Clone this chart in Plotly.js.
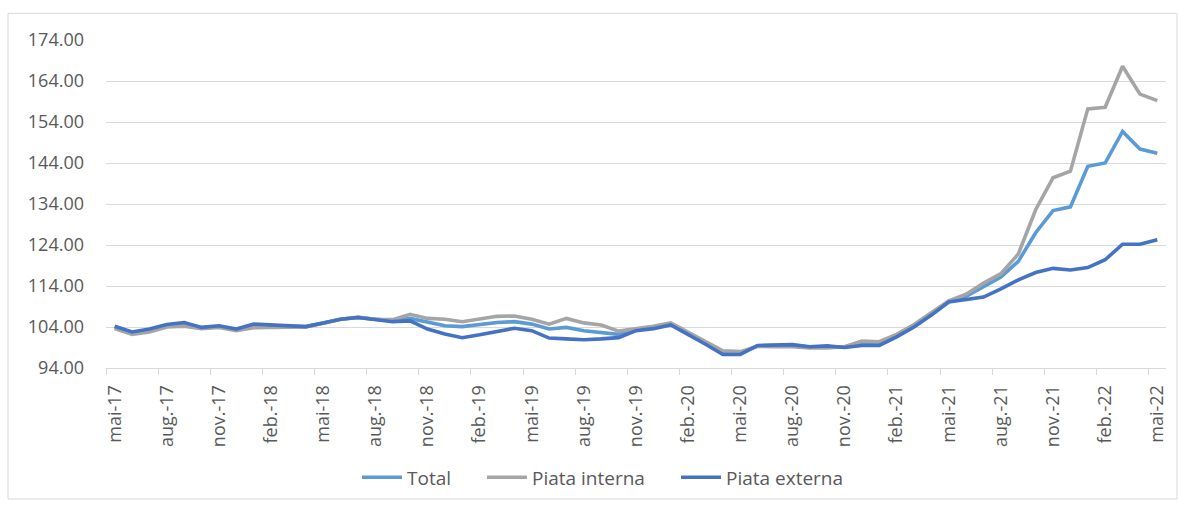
<!DOCTYPE html>
<html>
<head>
<meta charset="utf-8">
<script src="https://cdn.plot.ly/plotly-3.0.1.min.js"></script>
<style>html,body{margin:0;padding:0;background:#fff;}#chart{width:1178px;height:508px;}</style>
</head>
<body>
<div id="chart"></div>
<script>
// Category labels (monthly, mai-17 .. mai-22)
const monthNames = ["ian.", "feb.", "mar.", "apr.", "mai", "iun.", "iul.", "aug.", "sept.", "oct.", "nov.", "dec."];
const startMonth = 4, startYear = 17, nMonths = 61;
const months = [];
for (let k = 0; k < nMonths; k++) {
  const m = (startMonth + k) % 12;
  const y = startYear + Math.floor((startMonth + k) / 12);
  months.push(monthNames[m] + "-" + y);
}

const total = [
  103.9, 102.5, 103.2, 104.3, 104.7, 103.8, 104.1, 103.3, 104.3, 104.2,
  104.1, 104.1, 105.0, 105.9, 106.3, 105.8, 105.5, 106.1, 105.1, 104.3,
  104.1, 104.7, 105.1, 105.3, 104.7, 103.5, 103.9, 103.1, 102.7, 102.2,
  103.2, 103.9, 104.8, 102.5, 100.1, 97.7, 97.6, 99.4, 99.5, 99.5,
  99.1, 99.2, 99.1, 100.0, 99.9, 101.9, 104.3, 107.1, 110.3, 111.5,
  113.8, 116.2, 120.0, 127.0, 132.4, 133.3, 143.2, 144.0, 151.7, 147.4,
  146.4
];
const piataInterna = [
  103.6, 102.2, 102.8, 104.0, 104.2, 103.6, 103.9, 103.1, 103.8, 103.8,
  104.0, 104.0, 104.9, 105.9, 106.4, 105.9, 105.8, 107.1, 106.1, 105.9,
  105.3, 105.9, 106.6, 106.7, 105.9, 104.7, 106.1, 105.0, 104.5, 103.0,
  103.5, 104.2, 105.0, 102.8, 100.5, 98.2, 98.0, 99.3, 99.2, 99.2,
  98.9, 98.9, 99.2, 100.6, 100.4, 102.2, 104.6, 107.4, 110.4, 112.0,
  114.7, 117.0, 121.8, 132.6, 140.4, 142.0, 157.2, 157.6, 167.6, 160.8,
  159.2
];
const piataExterna = [
  104.2, 102.8, 103.5, 104.6, 105.1, 103.9, 104.3, 103.5, 104.7, 104.5,
  104.2, 104.1, 105.0, 105.9, 106.3, 105.9, 105.3, 105.5, 103.5, 102.3,
  101.4, 102.1, 103.0, 103.7, 103.1, 101.3, 101.1, 100.9, 101.1, 101.4,
  103.1, 103.6, 104.5, 102.2, 99.8, 97.3, 97.3, 99.5, 99.7, 99.7,
  99.2, 99.4, 99.0, 99.5, 99.5, 101.6, 104.0, 106.9, 110.1, 110.6,
  111.3, 113.3, 115.5, 117.3, 118.3, 117.9, 118.5, 120.4, 124.2, 124.2,
  125.3
];

const seriesNames = ["Total", "Piata interna", "Piata externa"];
const seriesColors = ["#5B9BD5", "#A5A5A5", "#4472C4"];
const seriesData = [total, piataInterna, piataExterna];
const legendIds = ["legend", "legend2", "legend3"];

const xIdx = months.map((_, i) => i);
const tickIdx = xIdx.filter(i => i % 3 === 0);
const tickText = tickIdx.map(i => months[i]);

const traces = seriesData.map((vals, s) => ({
  type: "scatter",
  mode: "lines",
  name: seriesNames[s],
  legend: legendIds[s],
  x: xIdx,
  y: vals,
  line: {color: seriesColors[s], width: 3.6},
  hoverinfo: "skip"
}));

const fontFam = "'Open Sans', 'Noto Sans', sans-serif";
const PL = 106, PW = 1060, PB = 373, PH = 333;
const px2x = p => (p - PL) / PW;
const py2y = p => (PB - p) / PH;
const legFont = {family: fontFam, size: 19, color: "#595959"};
function leg(left) {
  return {
    orientation: "h",
    x: px2x(left), xanchor: "left",
    y: py2y(484), yanchor: "middle",
    font: legFont,
    itemwidth: 40,
    bgcolor: "rgba(0,0,0,0)"
  };
}

const layout = {
  width: 1178,
  height: 508,
  margin: {l: PL, r: 12, t: 40, b: 135},
  paper_bgcolor: "#ffffff",
  plot_bgcolor: "#ffffff",
  font: {family: fontFam, size: 18, color: "#595959"},
  showlegend: true,
  legend: leg(357),
  legend2: leg(482),
  legend3: leg(676),
  xaxis: {
    range: [-0.5, 60.5],
    tickmode: "array",
    tickvals: tickIdx,
    ticktext: tickText,
    tickangle: -90,
    ticks: "",
    showgrid: false,
    zeroline: false,
    showline: true,
    linecolor: "#d9d9d9",
    linewidth: 1,
    ticklabelstandoff: 9,
    tickfont: {family: fontFam, size: 18, color: "#595959"},
    minor: {
      tickmode: "linear",
      tick0: -0.5,
      dtick: 3,
      ticks: "outside",
      ticklen: 6,
      tickwidth: 1,
      tickcolor: "#d9d9d9",
      showgrid: false
    }
  },
  yaxis: {
    range: [94, 174],
    tickmode: "linear",
    tick0: 94,
    dtick: 10,
    tickformat: ".2f",
    ticks: "",
    showgrid: true,
    gridcolor: "#d9d9d9",
    gridwidth: 1,
    zeroline: false,
    showline: false,
    ticklabelstandoff: 21,
    tickfont: {family: fontFam, size: 18, color: "#595959"}
  },
  shapes: [{
    type: "rect",
    xref: "paper", yref: "paper",
    x0: px2x(8), x1: px2x(1177),
    y0: py2y(506), y1: py2y(13),
    line: {color: "#d9d9d9", width: 1},
    fillcolor: "rgba(0,0,0,0)",
    layer: "below"
  }]
};

Plotly.newPlot("chart", traces, layout, {displayModeBar: false, staticPlot: true});
</script>
</body>
</html>
